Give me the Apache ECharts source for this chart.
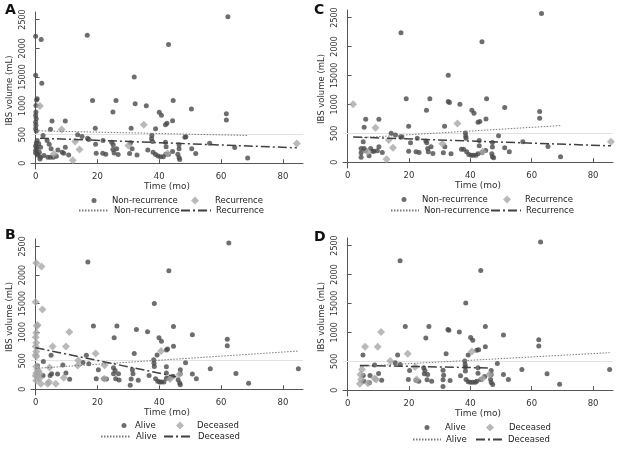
<!DOCTYPE html>
<html><head><meta charset="utf-8">
<script src="https://cdn.jsdelivr.net/npm/echarts@6/dist/echarts.min.js"></script>
<style>html,body{margin:0;padding:0;background:#fff}#c{width:620px;height:450px}</style>
</head><body><div id="c"></div>
<script>
// ---- tick labels ----
const xTickValues = [0, 20, 40, 60, 80];
const yTickValues = [0, 500, 1000, 1500, 2000, 2500];
const yTickLabels = ['0', '500', '1000', '15000', '2000', '2500'];
const xAxisTitle = 'Time (mo)';
const yAxisTitle = 'IBS volume (mL)';

// ---- Panel A: recurrence ----
const aNonRec = [[0,2210],[1.8,2150],[0,1530],[2,1390],[0.3,1100],[0.5,1120],[0.1,1005],[0.1,890],[0,830],[0.2,775],[0,715],[0.1,660],[0,600],[0.2,560],[0.5,395],[1,337],[0.3,280],[1.6,280],[0,220],[1.2,192],[0.5,163],[1.6,105],[1.4,75],[0,300],[0.2,350],[0.4,250],[0,180],[0.8,140],
[2.4,482],[2.7,134],[3.7,395],[4.4,331],[5,250],[4,105],[4.8,105],[5.7,105],[6.7,122],[7.2,232],[8.6,192],[9.1,174],[9.6,279],[10.7,145],[5.3,733],[9.6,733],[4.8,593],
[13.6,494],[15,465],[16.8,436],[17.2,413],[16.7,2227],[18.4,1093],[19.3,610],[19.4,331],[19.6,174],[21.7,174],[22.7,157],[21.8,395],[24.6,366],[25.1,320],[26.2,250],[25,238],[25.4,180],[26.7,151],[25,890],[26,1093],[30.7,355],[31.2,250],[30.4,168],[32.8,145],[30.9,610],[31.9,1500],[32.2,1035],[35.8,1000],[37.6,482],[37.5,424],[37.8,378],[36.3,232],[38,192],[38.8,150],[39.6,125],[40.4,115],[41.3,115],[38.8,599],
[40,885],[40.7,835],[42,670],[42.5,695],[42,366],[42.2,285],[43,157],[42.1,157],
[62.2,2546],[43,2064],[44.5,1093],[50.4,942],[61.7,860],[61.7,750],[44.3,738],[48.3,453],[48.6,460],[56.3,349],[64.4,273],[68.6,93],[46.4,320],[46.4,250],[44.3,203],[46,157],[46.4,99],[46.6,64],[50.5,250],[51.8,169]];
const aRec = [[1.4,995],[8.4,587],[35,668],[5.9,163],[14.2,238],[12,52],[12.8,378],[30,308],[42.7,170],[84.5,343]];
const aNonRecFit = [[0,565],[68.6,483]];
const aRecFit = [[1.4,436],[84.5,268]];

// ---- Panel B: survival ----
const bAlive = [[16.9,2229],[38.4,1500],[18.7,1106],[26.3,1106],[32.6,1048],[36.2,1007],[25.4,903],[39.9,900],[40.7,840],[31.9,625],[5,596],[16.4,596],[39.3,602],[2.5,486],[8.8,423],[15.3,469],[17.2,446],[20.3,342],[25.2,376],[25.7,330],[26.8,272],[25.2,272],[31.3,342],[31.5,272],[38.2,515],[38.3,457],[38.4,400],[36.7,243],[0.6,411],[5.2,272],[7.1,266],[9.8,284],[11,174],[19.6,185],[22,185],[22.9,180],[25.9,185],[27,162],[30.9,180],[33.2,156],[30.6,70],[38.8,185],[39.5,139],[40.1,127],[40.7,127],[41.5,127],[2.4,243],[4.7,243],
[62.5,2559],[43.1,2073],[44.6,1100],[50.7,955],[62,874],[62,764],[42.3,689],[42.7,706],[44.6,753],[48.5,463],[56.5,359],[64.8,278],[68.9,104],[85,359],[42.3,394],[42.3,284],[46.8,342],[46.8,272],[44.4,226],[43.1,191],[42.3,191],[46.1,168],[46.6,110],[46.8,81],[50.7,266],[52,185]];
const bDeceased = [[0.2,2212],[1.9,2148],[0,1529],[2.2,1395],[0.4,1106],[0.6,1123],[0.2,990],[0,909],[0.2,816],[0,747],[0.2,660],[0,602],[0.2,573],[5.5,747],[9.8,747],[10.9,1002],[19.4,625],[13.8,504],[0.2,400],[0.6,340],[1,310],[0.2,280],[1.3,270],[0.6,225],[0,235],[1.3,195],[0.2,155],[1.7,98],[3.9,98],[4.3,127],[6.5,98],[4.5,382],[9.1,203],[22.2,185],[22.3,420],[13.6,417],[40.6,670],[43.5,180],[46.5,260]];
const bAliveFit = [[0,366],[85,669]];
const bDeceasedFit = [[0,727],[45.5,221]];

// ---- Panel C: recurrence ----
const cNonRec = [[17.4,2239],[32.8,1502],[19.1,1096],[26.8,1096],[32.8,1050],[33.2,1032],[36.6,1003],[25.7,899],[5.9,742],[10.2,742],[5.4,603],[19.9,620],[31.6,620],[14.2,499],[15.6,470],[17.3,441],[17.7,435],[20.5,336],[22.7,412],[25.5,365],[25.8,336],[27.2,267],[26.1,238],[31.7,267],[38.4,504],[38.5,447],[38.6,412],[37.1,226],[5.1,354],
[4.4,237],[4.4,162],[5.4,237],[5.9,197],[4.4,87],[7,110],[7.5,237],[8.1,191],[8.6,191],[9.7,197],[10.2,267],[11.3,168],
[19.9,191],[22.3,180],[23.3,168],[26.3,180],[27.8,151],[31.2,162],[33.7,145],[37.8,226],[38.8,180],[39.5,133],[40.3,122],[41,122],[41.8,122],
[63.2,2569],[43.8,2082],[45.3,1096],[51.2,945],[62.6,876],[62.6,760],[40.5,899],[41.2,847],[42.5,690],[43.1,702],[45.1,748],[49.2,458],[57.1,354],[65.3,273],[69.4,93],[42.9,377],[42.9,284],[47.2,342],[47.2,261],[45,203],[43.8,168],[42.5,145],[47,145],[47.2,93],[47.6,75],[51.2,249],[52.7,180]];
const cRec = [[1.8,1003],[9.1,597],[35.8,667],[6.5,180],[13.4,383],[14.8,249],[12.7,52],[30.9,319],[44,180],[85.8,354]];
const cNonRecFit = [[4.4,424],[69.4,633]];
const cRecFit = [[1.8,435],[85.8,283]];

// ---- Panel D: survival ----
const dAlive = [[17.1,2235],[38.5,1505],[18.8,1100],[26.5,1100],[32.7,1048],[33,1036],[36.4,1007],[25.5,903],[32.1,631],[5,608],[16.3,608],[39.3,608],[8.8,434],[17.1,446],[15.5,475],[20.2,342],[24.8,388],[25.2,342],[26.1,272],[25,284],[31.1,347],[31.3,260],[38.2,504],[38.3,446],[38.4,400],[36.8,249],[5.1,255],[7.3,255],[10.1,290],[11.1,174],[5.3,156],[7.1,127],[19.8,185],[22.3,174],[23.2,156],[25.9,180],[27.4,156],[31.1,180],[33.4,168],[31.1,64],[38.6,185],[39.3,145],[40,139],[40.8,139],[41.6,139],[38.4,330],
[62.9,2559],[43.4,2067],[44.9,1100],[50.8,955],[62.3,874],[62.3,764],[40.1,909],[40.8,863],[42.1,689],[42.7,700],[44.9,753],[48.8,463],[56.8,359],[65,284],[69.1,104],[85.4,359],[42.5,388],[42.5,295],[46.8,342],[46.8,272],[44.7,237],[43.4,185],[42.1,156],[46.6,185],[46.8,133],[47.3,98],[50.8,272],[52.4,185]];
const dDeceased = [[10.9,1007],[5.7,753],[9.8,753],[19.6,631],[13.9,504],[4.7,359],[4,110],[4.4,185],[6.6,121],[8.8,203],[9.3,185],[22.5,185],[22,400],[40.5,670],[44,203],[46.2,272],[4.2,272]];
const dAliveFit = [[4,412],[85.4,649]];
const dDeceasedFit = [[4,429],[46.2,384]];

// ---- layout / style (not data) ----
const FONT = 'DejaVu Sans';
const DARK = '#4a4a4a', LIGHT = '#a8a8a8';
const panels = [
  {id:'A', grid:{left:31, top:12, width:272, height:157}, label:[5,3],
   s1:['Non-recurrence', aNonRec], s2:['Recurrence', aRec], f1:['Non-recurrence', aNonRecFit], f2:['Recurrence', aRecFit],
   leg1:[[94,112],[195,215]], leg2:[[78,108],[180,210]], ly:[202,212]},
  {id:'B', grid:{left:31, top:239, width:272, height:156}, label:[5,228],
   s1:['Alive', bAlive], s2:['Deceased', bDeceased], f1:['Alive', bAliveFit], f2:['Deceased', bDeceasedFit],
   leg1:[[124,135],[180,197]], leg2:[[100,130],[163,192]], ly:[427,438]},
  {id:'C', grid:{left:343, top:10, width:270, height:158}, label:[314,3],
   s1:['Non-recurrence', cNonRec], s2:['Recurrence', cRec], f1:['Non-recurrence', cNonRecFit], f2:['Recurrence', cRecFit],
   leg1:[[404,422],[507,525]], leg2:[[390,418],[490,520]], ly:[201,212]},
  {id:'D', grid:{left:343, top:238, width:270, height:158}, label:[314,230],
   s1:['Alive', dAlive], s2:['Deceased', dDeceased], f1:['Alive', dAliveFit], f2:['Deceased', dDeceasedFit],
   leg1:[[427,445],[490,509]], leg2:[[412,440],[475,502]], ly:[429,441]}
];

const grids = [], xAxes = [], yAxes = [], series = [], legends = [], graphics = [];
const labelName = n => n.split('|').pop();
panels.forEach((p, i) => {
  graphics.push({type:'text', left:p.label[0], top:p.label[1], style:{text:p.id, font:'bold 14px ' + FONT, fill:'#111'}});
  grids.push(p.grid);
  xAxes.push({type:'value', gridIndex:i, min:-1.5, max:86.5,
    name:xAxisTitle, nameLocation:'middle', nameGap:12, nameTextStyle:{fontFamily:FONT, fontSize:9, color:'#333'},
    axisLine:{lineStyle:{color:'#555', width:1}},
    axisTick:{inside:true, length:4, customValues:xTickValues, lineStyle:{color:'#555'}},
    axisLabel:{customValues:xTickValues, margin:3, fontFamily:FONT, fontSize:8.5, color:'#333'},
    splitLine:{show:false}});
  yAxes.push({type:'value', gridIndex:i, min:-100, max:2630,
    name:yAxisTitle, nameLocation:'middle', nameGap:17, nameRotate:90, nameTextStyle:{fontFamily:FONT, fontSize:8.5, color:'#333'},
    axisLine:{show:true, lineStyle:{color:'#555', width:1}},
    axisTick:{show:true, inside:true, length:4, customValues:yTickValues, lineStyle:{color:'#555'}},
    axisLabel:{customValues:yTickValues, rotate:90, margin:4, fontFamily:FONT, fontSize:8, color:'#333',
      formatter: v => yTickLabels[yTickValues.indexOf(v)]},
    splitLine:{show:false}});
  const n1 = p.id + '|pt|' + p.s1[0], n2 = p.id + '|pt2|' + p.s2[0];
  const n3 = p.id + '|ln|' + p.f1[0], n4 = p.id + '|ln2|' + p.f2[0];
  series.push({type:'scatter', name:n1, xAxisIndex:i, yAxisIndex:i, data:p.s1[1], symbol:'circle', symbolSize:5,
    itemStyle:{color:DARK}, z:3,
    markLine:{silent:true, symbol:'none', label:{show:false}, lineStyle:{color:'#e2e2e2', type:'solid', width:1}, data:[{yAxis:500}], z:1}});
  series.push({type:'scatter', name:n2, xAxisIndex:i, yAxisIndex:i, data:p.s2[1], symbol:'diamond', symbolSize:8,
    itemStyle:{color:LIGHT}, z:4});
  series.push({type:'line', name:n3, xAxisIndex:i, yAxisIndex:i, data:p.f1[1], symbol:'none', z:5,
    itemStyle:{color:'#7a7a7a'}, lineStyle:{color:'#7a7a7a', width:1, type:[1.5,1.5]}});
  series.push({type:'line', name:n4, xAxisIndex:i, yAxisIndex:i, data:p.f2[1], symbol:'none', z:5,
    itemStyle:{color:'#404040'}, lineStyle:{color:'#404040', width:1.5, type:[9,3,2,3]}});
  const ts = {fontFamily:FONT, fontSize:8.5, color:'#222'};
  // legends: symbol row (icon box = symbol size, text pushed right by padding)
  [[n1, p.leg1[0], 'circle', 5], [n2, p.leg1[1], 'diamond', 8]].forEach(([nm, [cx, tx], ic, sz]) => {
    const pad = Math.max(0, tx - (cx + sz / 2 + 5));
    legends.push({data:[{name:nm, icon:ic}], left:cx - sz / 2, top:p.ly[0] - 6, itemWidth:sz, itemHeight:sz, padding:0,
      formatter:labelName, textStyle:Object.assign({padding:[0, 0, 0, pad]}, ts), selectedMode:false});
  });
  [[n3, p.leg2[0]], [n4, p.leg2[1]]].forEach(([nm, [x0, x1]]) => {
    legends.push({data:[nm], left:x0, top:p.ly[1] - 6, itemWidth:x1 - x0, itemHeight:8, padding:0,
      itemStyle:{opacity:0}, formatter:labelName, textStyle:ts, selectedMode:false});
  });
});

const chart = echarts.init(document.getElementById('c'), null, {renderer:'canvas'});
chart.setOption({
  animation:false,
  backgroundColor:'#fff',
  graphic:graphics,
  grid:grids, xAxis:xAxes, yAxis:yAxes, legend:legends, series:series
});
</script></body></html>
